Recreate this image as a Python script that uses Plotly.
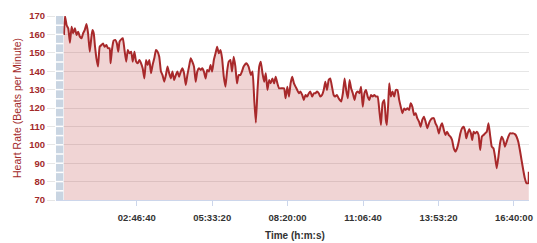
import plotly.graph_objects as go

# ---- data ----
tick_labels = ["02:46:40", "05:33:20", "08:20:00", "11:06:40", "13:53:20", "16:40:00"]
y_tick_values = [70, 80, 90, 100, 110, 120, 130, 140, 150, 160, 170]

time_s = [
    355, 487, 711, 921, 1145, 1368, 1579, 1803, 2026, 2237,
    2461, 2684, 2895, 3118, 3342, 3553, 3776, 4000, 4132, 4303,
    4474, 4658, 4868, 5092, 5316, 5526, 5750, 5974, 6184, 6408,
    6540, 6711, 6934, 7158, 7368, 7553, 7724, 7947, 8158, 8382,
    8605, 8816, 9040, 9263, 9474, 9697, 9921, 10132, 10355, 10579,
    10790, 11013, 11237, 11447, 11671, 11895, 12105, 12329, 12553, 12763,
    12987, 13211, 13421, 13645, 13868, 14079, 14303, 14526, 14737, 14961,
    15184, 15395, 15618, 15842, 16053, 16276, 16500, 16711, 16934, 17158,
    17369, 17592, 17816, 18026, 18250, 18474, 18684, 18908, 19132, 19342,
    19566, 19790, 20000, 20224, 20447, 20658, 20882, 21105, 21316, 21540,
    21763, 21974, 22197, 22421, 22632, 22855, 23079, 23290, 23513, 23737,
    23947,
    24171, 24526, 24829, 25132, 25356, 25579, 25790, 26013, 26237, 26448,
    26671, 26895, 27105, 27329, 27553, 27763, 27987, 28211, 28421, 28645,
    28868, 29211, 29526, 29737, 29961, 30184, 30395, 30618, 30842, 31053,
    31276, 31500, 31711, 31934, 32158, 32368, 32592, 32816, 33026, 33250,
    33474, 33684, 33908, 34132, 34342, 34566, 34789, 35000, 35224, 35447,
    35658, 35882, 36105, 36316, 36540, 36763, 37105,
    37329, 37553, 37763, 37987, 38211, 38421, 38645, 38868, 39079, 39303,
    39526, 39737, 39961, 40184, 40395, 40618, 40842, 41053, 41276, 41500,
    41711, 41934, 42158, 42368, 42592, 42816, 43026, 43158, 43342, 43474,
    43684, 43908, 44132, 44342, 44566, 44790, 45000, 45224, 45447, 45658,
    45882, 46105, 46316, 46540, 46763, 46974, 47197, 47421, 47632, 47855,
    48079, 48290, 48513, 48737, 48947, 49171, 49395, 49605,
    49829, 50053, 50263, 50487, 50711, 50921, 51145, 51368, 51579, 51803,
    52026, 52237, 52461, 52684, 52895, 53118, 53342, 53553, 53684, 53868,
    54079, 54303, 54474, 54658, 54868, 55092, 55316, 55526, 55750, 55974,
    56184, 56408, 56632, 56842, 57066, 57290, 57500, 57724, 57947, 58158,
    58382, 58605, 58816, 59040, 59263, 59474, 59697, 59921, 60132, 60355,
    60579, 60790, 61013, 61237, 61447, 61671, 61895, 61974,
]

heart_rate = [
    159.7, 170, 165, 163.3, 155.5, 164.2, 160.6, 163.3, 159.7, 161.5,
    158.8, 157.9, 160.6, 162.4, 165.7, 160.6, 150.6, 158.8, 162.4, 160.6,
    153.3, 147, 142.5, 153.3, 154.2, 155.1, 153.3, 154.2, 152.5, 152.5,
    144.3, 151.5, 156.6, 157, 155.1, 150.6, 156.1, 157.3, 157.9, 151.5,
    145.2, 151.5, 149.7, 150.6, 145.2, 150.6, 145.2, 144.3, 146.1, 144.3,
    141.6, 136.1, 146.1, 143.4, 146.1, 138.9, 143.4, 147, 151.5, 150.6,
    147.9, 139.8, 137.9, 134.3, 137.9, 142.5, 138.9, 136.1, 139.8, 135.2,
    137.9, 139.8, 137, 139.8, 141.6, 138.9, 132.5, 137.9, 142.5, 147,
    145.2, 142.5, 134.3, 139.8, 141.6, 140.7, 141.6, 139.8, 136.1, 140.7,
    139.8, 143.4, 139.8, 146.1, 149.7, 153.3, 149.7, 151.5, 147, 137,
    131.6, 139.8, 145.2, 146.1, 139.8, 147.9, 142.5, 133.4, 137.9, 137.9,
    139.8,
    142.5, 144.3, 142.5, 137.9, 139.8, 124.4, 112, 129.8, 142.5, 145.2,
    138.9, 134.3, 138.9, 129.8, 135.2, 133.4, 136.1, 133.4, 137, 133.4,
    130.7, 130.7, 130.7, 125.3, 131.6, 126.2, 133.4, 137, 133.4, 131.6,
    129.8, 128, 128.9, 127.1, 124.4, 127.1, 126.2, 128, 128.9, 126.2,
    128, 128, 128.9, 128, 126.2, 127.1, 129.8, 134.3, 129.8, 135.2,
    136.1, 131.6, 127.1, 126.2, 127.1, 125.3, 123.5,
    128, 136.1, 129.8, 125.3, 135.2, 130.7, 128, 124.4, 128, 128.9,
    128, 131.6, 120.7, 128, 129.8, 126.2, 124.4, 127.1, 126.2, 127.1,
    126.2, 126.2, 118.9, 110.8, 122.6, 124.4, 113.5, 110.8, 122.6, 133.4,
    126.2, 128.9, 126.2, 129.8, 129.8, 124.4, 120.7, 117.1, 119.8, 118.9,
    119.8, 118.9, 122.6, 120.7, 116.2, 117.1, 114.4, 112.6, 109.8, 113.5,
    115.3, 112.6, 109, 111.7, 113.5, 114.4, 114.4, 111.7,
    109.8, 106.2, 109.8, 111.7, 108, 105.3, 107.1, 105.3, 104.4, 102.6,
    98.1, 96.3, 98.1, 101.7, 106.2, 109, 109.8, 107.1, 103.5, 106.2,
    108.4, 106.2, 102.6, 107.1, 106.2, 107.1, 105.3, 97.2, 104.4, 105.3,
    106.2, 107.1, 111.7, 105.3, 99, 98.1, 93.5, 87.2, 93.5, 100.8,
    104.4, 102.6, 99, 101.7, 104.4, 106.2, 106.2, 106.2, 105.8, 104.4,
    101.7, 97.2, 91.7, 86.3, 81.8, 79.1, 79.1, 85.4,
]

assert len(time_s) == len(heart_rate)


def hms_to_s(label):
    h, m, s = (int(p) for p in label.split(":"))
    return h * 3600 + m * 60 + s


tick_vals = [hms_to_s(t) for t in tick_labels]

X_MIN, X_MAX = -700, 62000
Y_MIN, Y_MAX = 70, 170

LINE_RED = "#a8292b"
LABEL_RED = "#a32a2a"
FONT = "Liberation Sans, Arial, sans-serif"

fig = go.Figure()
fig.add_trace(go.Scatter(
    x=time_s, y=heart_rate, mode="lines",
    line=dict(color=LINE_RED, width=2, shape="spline", smoothing=0.4),
    fill="tozeroy", fillcolor="rgba(180,40,40,0.2)",
    hoverinfo="skip", showlegend=False,
))

# light blue-grey band at the left edge with white stripes
shapes = [dict(type="rect", xref="x", yref="y", x0=X_MIN, x1=280, y0=Y_MIN, y1=Y_MAX,
               fillcolor="#c9d5e2", line=dict(width=0), layer="above")]
for v in range(Y_MIN + 5, Y_MAX, 5):
    shapes.append(dict(type="line", xref="x", yref="y", x0=X_MIN, x1=280, y0=v, y1=v,
                       line=dict(color="white", width=1.5), layer="above"))

fig.update_layout(
    width=537, height=243,
    margin=dict(l=56, r=4, t=16, b=43),
    paper_bgcolor="white", plot_bgcolor="white",
    font=dict(family=FONT),
    shapes=shapes,
    xaxis=dict(
        range=[X_MIN, X_MAX], tickmode="array", tickvals=tick_vals, ticktext=tick_labels,
        ticks="outside", ticklen=5, tickcolor="#ccd6eb", showgrid=False, zeroline=False,
        showline=True, linecolor="#ccd6eb", linewidth=1,
        tickfont=dict(family=FONT, size=9.5, color="#333333", weight="bold"),
        ticklabelstandoff=4,
    ),
    yaxis=dict(
        range=[Y_MIN, Y_MAX], tickmode="array", tickvals=y_tick_values,
        ticks="outside", ticklen=8, tickcolor="#e6e6e6",
        showgrid=True, gridcolor="#e6e6e6", gridwidth=1, zeroline=False, showline=False,
        tickfont=dict(family=FONT, size=9.5, color=LABEL_RED, weight="bold"),
    ),
    annotations=[
        dict(text="Heart Rate (Beats per Minute)", xref="paper", yref="paper",
             x=(16.7 - 56) / 477, y=0.5, xanchor="center", yanchor="middle",
             textangle=-90, showarrow=False,
             font=dict(family=FONT, size=10.5, color=LABEL_RED)),
        dict(text="Time (h:m:s)", xref="paper", yref="paper",
             x=(297.5 - 56) / 477, y=(200 - 235) / 184, xanchor="center", yanchor="middle",
             showarrow=False,
             font=dict(family=FONT, size=10, color="#333333", weight="bold")),
    ],
)

fig.write_html("out.html")
